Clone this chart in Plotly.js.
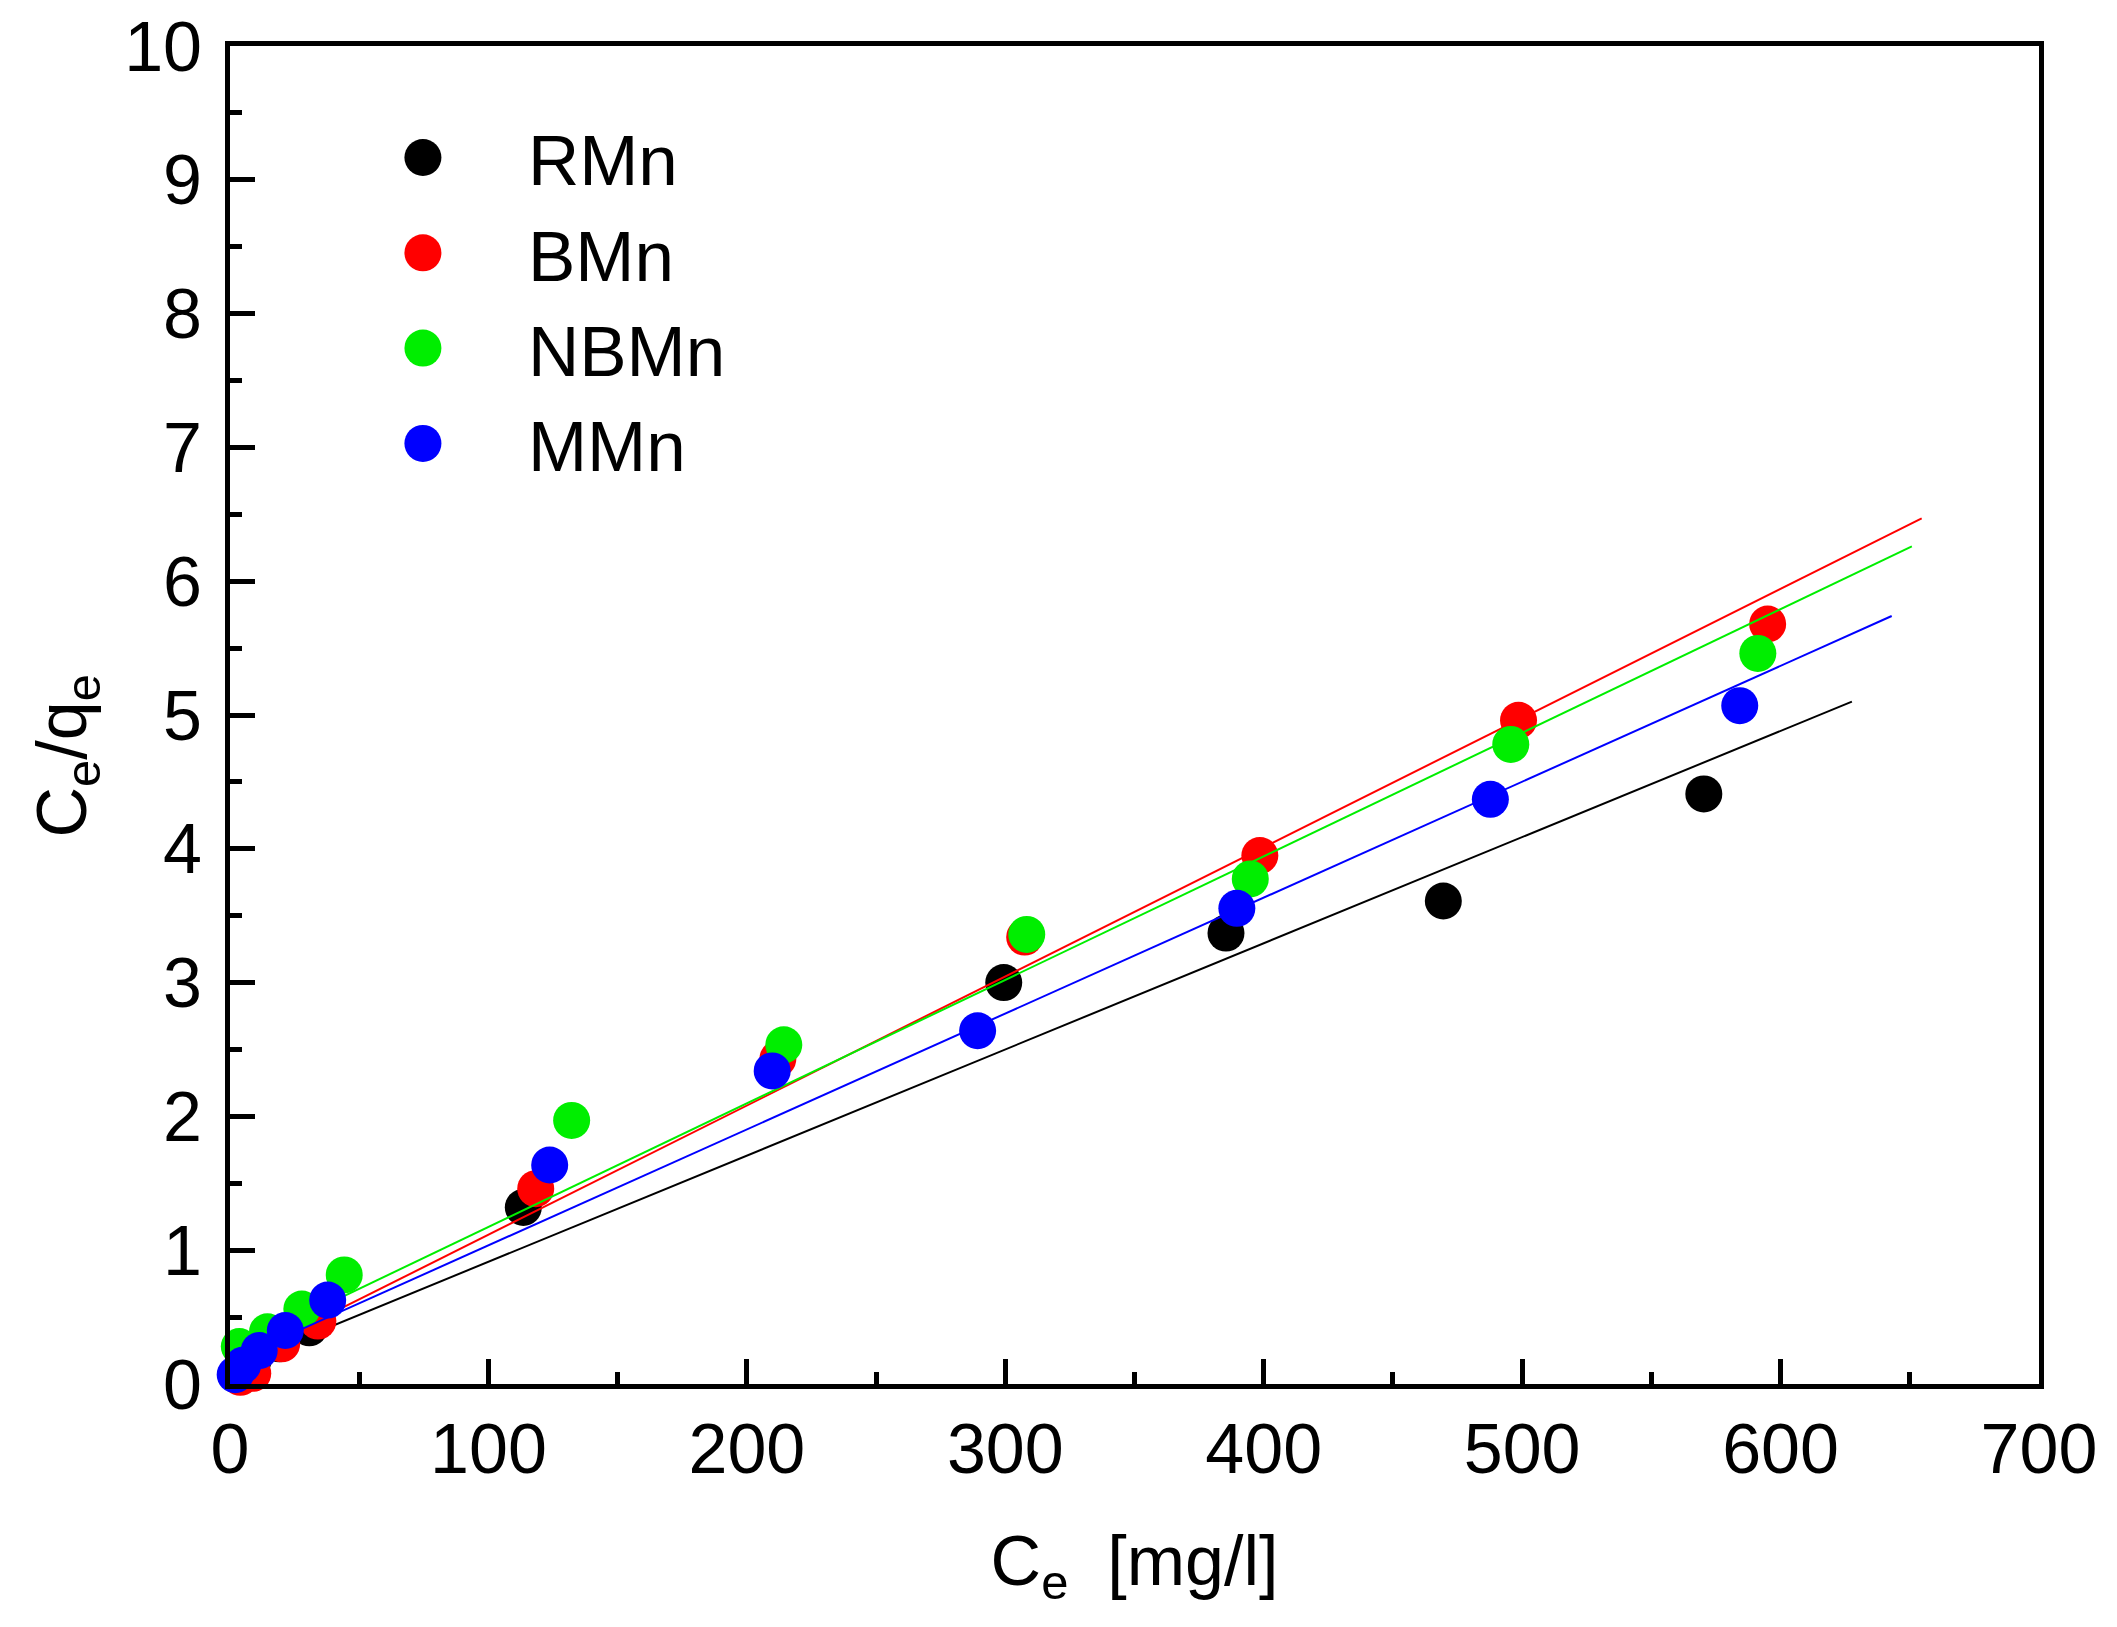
<!DOCTYPE html>
<html>
<head>
<meta charset="utf-8">
<script src="https://cdn.plot.ly/plotly-3.0.1.min.js"></script>
<style>html,body{margin:0;padding:0;background:#fff;}#chart{width:2117px;height:1627px;}</style>
</head>
<body>
<div id="chart"></div>
<script>
// Scatter data: Ce [mg/l] vs Ce/qe
const seriesNames = ["RMn", "BMn", "NBMn", "MMn"];
const seriesColors = ["#000000", "#ff0000", "#00ee00", "#0000ff"];

const rmnX = [3, 9, 19, 30.7, 113.5, 299.4, 385.4, 469.5, 570.3];
const rmnY = [0.08, 0.18, 0.30, 0.42, 1.32, 3.00, 3.37, 3.61, 4.41];

const bmnX = [4, 8.8, 20, 34, 118.3, 212, 307.5, 398.5, 498.6, 595];
const bmnY = [0.05, 0.08, 0.30, 0.47, 1.46, 2.43, 3.34, 3.95, 4.96, 5.68];

const nbmnX = [3.6, 14.5, 27.8, 44.2, 132.2, 214.3, 308.3, 394.8, 495.6, 591.2];
const nbmnY = [0.28, 0.39, 0.56, 0.815, 1.97, 2.535, 3.36, 3.775, 4.78, 5.46];

const mmnX = [2, 4.9, 11.3, 21.4, 37.8, 123.7, 209.8, 289.3, 389.6, 487.7, 584.2];
const mmnY = [0.07, 0.14, 0.25, 0.40, 0.627, 1.637, 2.34, 2.64, 3.555, 4.37, 5.07];

// Linear fit lines (end points)
const rmnFitX = [0, 627.6];
const rmnFitY = [0.12, 5.10];
const bmnFitX = [0, 654.6];
const bmnFitY = [0.15, 6.47];
const nbmnFitX = [0, 650.8];
const nbmnFitY = [0.25, 6.26];
const mmnFitX = [0, 643];
const mmnFitY = [0.17, 5.74];

const xTickVals = [0, 100, 200, 300, 400, 500, 600, 700];
const yTickVals = [0, 1, 2, 3, 4, 5, 6, 7, 8, 9, 10];

const xTitle = "C<sub>e</sub>  [mg/l]";
const yTitle = "C<sub>e</sub>/q<sub>e</sub>";

const pts = [[rmnX, rmnY], [bmnX, bmnY], [nbmnX, nbmnY], [mmnX, mmnY]];
const fits = [[rmnFitX, rmnFitY], [bmnFitX, bmnFitY], [nbmnFitX, nbmnFitY], [mmnFitX, mmnFitY]];

const traces = [];
for (let i = 0; i < 4; i++) {
  traces.push({
    type: "scatter", mode: "markers", name: seriesNames[i],
    x: pts[i][0], y: pts[i][1],
    marker: {color: seriesColors[i], size: 37, line: {width: 0}},
    cliponaxis: false
  });
  traces.push({
    type: "scatter", mode: "lines", showlegend: false, hoverinfo: "skip",
    x: fits[i][0], y: fits[i][1],
    line: {color: seriesColors[i], width: 2}
  });
}

const FONT = "Arial, 'Liberation Sans', Helvetica, sans-serif";

const axisCommon = {
  showgrid: false, zeroline: false,
  showline: true, linecolor: "#000", linewidth: 5, mirror: true,
  ticks: "inside", ticklen: 25, tickwidth: 5, tickcolor: "#000",
  tickfont: {family: FONT, size: 70, color: "#000"},
  minor: {ticks: "inside", ticklen: 12, tickwidth: 5, tickcolor: "#000", showgrid: false}
};

const layout = {
  width: 2117, height: 1627,
  paper_bgcolor: "#fff", plot_bgcolor: "#fff",
  margin: {l: 230, r: 78, t: 46, b: 243},
  font: {family: FONT, color: "#000"},
  showlegend: true,
  legend: {
    x: 0.0486, y: 0.956, xanchor: "left", yanchor: "top",
    font: {family: FONT, size: 71, color: "#000"},
    bgcolor: "rgba(0,0,0,0)", borderwidth: 0,
    itemwidth: 200, itemsizing: "constant", tracegroupgap: 0
  },
  xaxis: Object.assign({}, axisCommon, {
    range: [0, 700], tickvals: xTickVals, ticktext: xTickVals.map(String),
    minor: Object.assign({}, axisCommon.minor, {dtick: 50}),
    title: {text: xTitle, font: {family: FONT, size: 70, color: "#000"}, standoff: 50}
  }),
  yaxis: Object.assign({}, axisCommon, {
    range: [0, 10], tickvals: yTickVals, ticktext: yTickVals.map(String),
    ticklabelstandoff: 9,
    minor: Object.assign({}, axisCommon.minor, {dtick: 0.5})
  }),
  annotations: [{
    text: yTitle, xref: "paper", yref: "paper",
    x: -0.0901, y: 0.469, xanchor: "center", yanchor: "middle",
    textangle: -90, showarrow: false,
    font: {family: FONT, size: 70, color: "#000"}
  }]
};

Plotly.newPlot("chart", traces, layout, {staticPlot: true}).then(function () {
  // enlarge legend symbols to the size used in the figure
  const r = 18.5;
  document.querySelectorAll(".legend .legendpoints path.scatterpts").forEach(function (p) {
    p.setAttribute("d", "M" + r + ",0A" + r + "," + r + " 0 1,1 0,-" + r + "A" + r + "," + r + " 0 0,1 " + r + ",0Z");
  });
});
</script>
</body>
</html>
